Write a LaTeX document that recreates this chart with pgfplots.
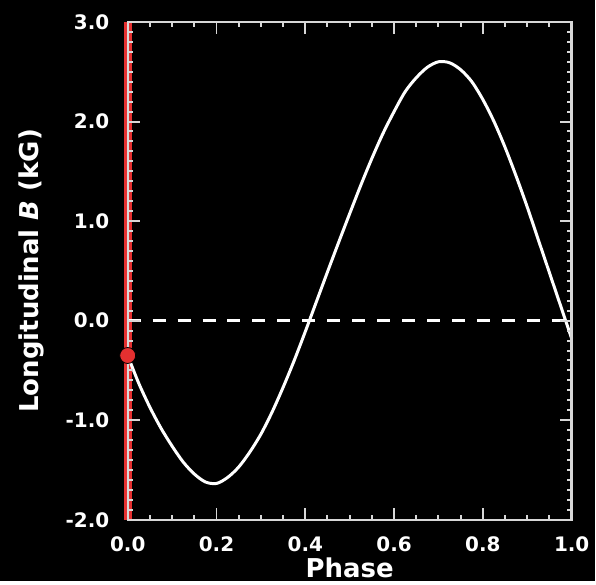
\documentclass[border=0pt]{standalone}
\usepackage{pgfplots}
\pgfplotsset{compat=1.18}
\usepackage{fontspec}
\setmainfont{DejaVu Sans}

\definecolor{axisgray}{RGB}{215,215,215}
\definecolor{markred}{RGB}{228,48,48}

\begin{document}
\begin{tikzpicture}
% black canvas behind the whole figure
\fill[black] (-64pt,-30.5pt) rectangle (234pt,260.5pt);
\begin{axis}[
  scale only axis, width=222.5pt, height=249.5pt,
  xmin=0, xmax=1, ymin=-2, ymax=3,
  axis on top, clip=false,
  axis line style={axisgray, line width=1.2pt},
  every tick/.style={axisgray, line width=1pt},
  tick align=inside,
  major tick length=6pt, minor tick length=2.5pt,
  xtick={0,0.2,0.4,0.6,0.8,1},
  xticklabels={0.0,0.2,0.4,0.6,0.8,1.0},
  minor x tick num=3,
  ytick={-2,-1,0,1,2,3},
  yticklabels={-2.0,-1.0,0.0,1.0,2.0,3.0},
  minor y tick num=9,
  ticklabel style={font=\bfseries\fontsize{10}{12}\selectfont, text=white},
  xticklabel style={yshift=-5pt},
  yticklabel style={xshift=-5.7pt},
  xlabel={\color{white}Phase},
  ylabel={\color{white}Longitudinal \textit{B} (kG)},
  xlabel style={font=\bfseries\fontsize{13}{15}\selectfont, text=white,
    at={(axis description cs:0.5,-0.0962)}, anchor=center},
  ylabel style={font=\bfseries\fontsize{13}{15}\selectfont, text=white,
    at={(axis description cs:-0.2157,0.5)}, anchor=center},
]
% phase-zero marker line
\addplot[markred, line width=4pt] coordinates {(0,-2) (0,3)};
% zero-field reference
\addplot[white, line width=1.5pt, dash pattern=on 6.5pt off 6pt] coordinates {(0,0) (1,0)};
% longitudinal field curve
\addplot[white, line width=1.5pt, smooth] coordinates {
  (0.000,-0.35) (0.025,-0.63) (0.050,-0.87) (0.075,-1.08) (0.100,-1.26)
  (0.125,-1.42) (0.150,-1.54) (0.175,-1.62) (0.200,-1.635)
  (0.225,-1.575) (0.250,-1.47) (0.275,-1.32) (0.300,-1.14) (0.325,-0.92)
  (0.350,-0.67) (0.375,-0.40) (0.400,-0.11) (0.425,0.19) (0.450,0.49)
  (0.475,0.785) (0.500,1.075) (0.525,1.36) (0.550,1.63) (0.575,1.88)
  (0.600,2.10) (0.625,2.30) (0.650,2.44) (0.675,2.545) (0.700,2.60)
  (0.725,2.59) (0.750,2.52) (0.775,2.40) (0.800,2.22) (0.825,2.00)
  (0.850,1.74) (0.875,1.45) (0.900,1.14) (0.925,0.81) (0.950,0.48)
  (0.975,0.15) (1.000,-0.18)
};
% current phase
\addplot[only marks, mark=*, mark size=4pt, mark options={draw=none, fill=markred}] coordinates {(0,-0.35)};
\end{axis}
\end{tikzpicture}
\end{document}
